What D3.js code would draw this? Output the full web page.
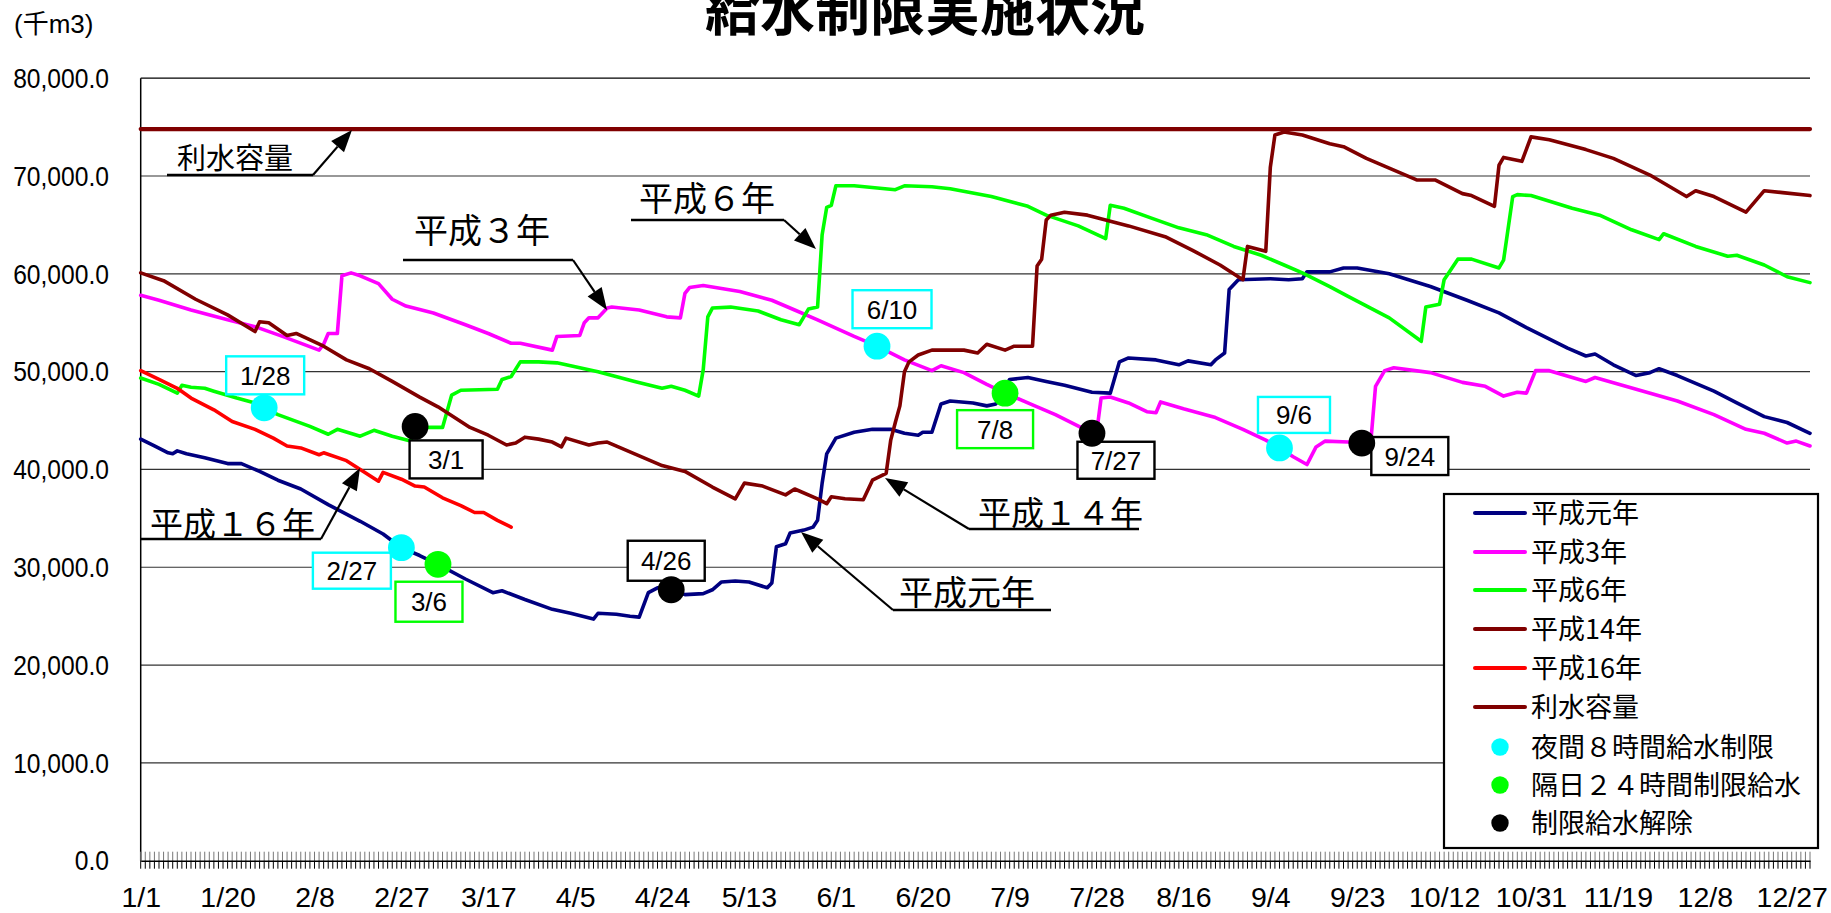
<!DOCTYPE html>
<html><head><meta charset="utf-8">
<script src="https://cdn.jsdelivr.net/npm/d3@7"></script>
<style>
html,body{margin:0;padding:0;background:#fff;overflow:hidden}
svg{display:block}
text{font-family:"Liberation Sans",Arial,"Noto Sans CJK JP",sans-serif;fill:#000}
.cjk{font-family:"Noto Sans CJK JP","Liberation Sans",sans-serif}
</style></head><body>
<svg id="chart" width="1831" height="913"></svg>
<script>
// ---------- DATA ----------
const title = "給水制限実施状況";
const unitLabel = "(千m3)";
const monthLengths = [31,29,31,30,31,30,31,31,30,31,30,31];
const xTickLabels = ["1/1","1/20","2/8","2/27","3/17","4/5","4/24","5/13","6/1","6/20","7/9","7/28","8/16","9/4","9/23","10/12","10/31","11/19","12/8","12/27"];
const yTicks = [0,10000,20000,30000,40000,50000,60000,70000,80000];

// day-of-year index (0 = 1/1) and storage (千m3)
const h1Day = [0,3,6,7,8,10,14,19,22,26,30,35,41,48,53,57,61,65,71,77,79,84,90,94,99,100,104,107,109,111,113,116,119,123,125,127,130,133,137,138,139,141,142,145,147,148,149,150,152,156,160,164,167,170,171,173,175,177,182,185,187,190,194,198,202,208,212,214,216,222,227,229,234,235,237,238,240,247,251,254,255,260,263,266,273,282,290,297,303,312,316,318,322,327,330,332,336,344,349,355,360,365];
const h1Val = [43100,42400,41700,41600,41900,41600,41200,40600,40600,39800,38900,38000,36400,34700,33400,32000,31200,30300,28800,27400,27600,26700,25700,25300,24700,25300,25200,25000,24900,27400,27900,27700,27200,27300,27700,28500,28600,28500,27900,28400,32100,32400,33500,33800,34100,34800,38600,41600,43200,43800,44100,44100,43700,43500,43800,43800,46700,47000,46800,46500,46700,49200,49400,49000,48600,47900,47800,51000,51400,51200,50700,51100,50700,51200,51900,58400,59400,59500,59400,59500,60200,60200,60600,60600,60000,58700,57300,56000,54500,52400,51600,51800,50700,49600,49900,50300,49600,48000,46800,45400,44800,43700];

const h3Day = [0,4,11,19,25,31,39,40,41,43,44,46,48,52,55,58,64,71,76,81,83,90,91,96,97,98,100,102,103,109,115,118,119,120,123,131,138,143,148,156,161,167,173,175,180,185,189,195,200,206,208,209,210,212,216,220,222,223,228,235,241,246,249,252,255,257,259,264,267,269,270,272,274,282,289,294,298,301,303,305,308,316,318,327,336,344,351,355,360,362,365];
const h3Val = [57800,57300,56300,55300,54600,53600,52200,52800,53900,53900,59800,60100,59800,59000,57400,56700,56000,54800,53900,52900,52900,52200,53600,53700,55000,55500,55500,56500,56600,56300,55600,55500,58000,58600,58800,58200,57300,56300,55300,53600,52600,51200,50100,50600,49900,48700,47800,46600,45600,44200,43700,43700,47300,47400,46800,45900,45800,46900,46200,45300,44100,43000,42200,41300,40500,42300,42900,42800,42700,43000,48500,50100,50400,49900,48900,48500,47500,47900,47800,50100,50100,49000,49400,48200,47000,45600,44100,43700,42700,42900,42400];

const h6Day = [0,4,8,9,11,14,16,21,25,27,30,37,41,43,48,51,55,59,60,66,68,70,78,79,81,83,87,91,100,108,114,116,119,122,123,124,125,129,135,140,144,145,146,148,149,150,151,152,156,165,167,173,177,186,194,198,205,211,212,215,221,227,233,239,245,250,254,260,264,273,280,281,284,285,288,291,297,298,300,301,304,313,319,326,332,333,340,347,349,355,360,365];
const h6Val = [49350,48700,47800,48600,48400,48300,48000,47300,46800,46300,45600,44400,43600,44100,43400,44000,43400,42900,44300,44300,47600,48100,48200,49200,49500,51000,51000,50900,50000,49000,48300,48500,48100,47500,50200,55600,56500,56600,56200,55300,54800,55600,56400,56600,64000,66800,67000,69000,69000,68600,69000,68900,68700,67900,66900,66000,64900,63600,67000,66700,65700,64700,64000,62800,61900,60900,60100,58700,57700,55500,53100,56600,56900,59400,61500,61500,60600,61400,67900,68100,68000,66700,66000,64500,63500,64100,62800,61800,61900,60900,59700,59100];

const h14Day = [0,5,12,19,25,26,28,32,34,40,45,50,55,61,65,72,76,80,82,84,87,90,92,93,98,100,102,108,114,119,125,130,132,136,141,143,148,150,151,154,158,160,163,164,165,166,167,168,170,173,180,183,185,189,191,195,196,197,198,199,202,207,216,224,230,236,241,242,246,247,248,250,254,260,263,268,279,283,289,291,296,297,298,302,304,308,316,322,330,338,340,344,351,353,355,359,365];
const h14Val = [60100,59300,57400,55800,54100,55100,55000,53700,53900,52600,51200,50300,49000,47400,46400,44300,43500,42500,42700,43300,43100,42800,42300,43200,42500,42700,42800,41600,40400,39800,38200,37000,38600,38300,37400,38000,37000,36500,37200,37000,36900,38900,39600,43000,44800,46500,50000,51000,51700,52200,52200,51900,52800,52200,52600,52600,60800,61500,65500,66000,66300,66000,64900,63800,62400,60900,59400,62800,62300,70900,74200,74500,74200,73300,73000,71800,69600,69600,68200,68000,66900,71100,71900,71500,74000,73700,72700,71800,70100,67900,68500,67900,66300,67400,68500,68300,68000];

const h16Day = [0,4,8,11,16,20,25,29,32,35,39,40,45,48,52,53,57,60,62,66,70,73,75,78,81];
const h16Val = [50100,49200,48300,47300,46100,44900,44100,43200,42400,42200,41500,41700,40900,40000,38800,39700,39000,38300,38200,37100,36300,35600,35600,34800,34100];

const capacityDay = [0,365];
const capacityVal = [74800,74800];

const seriesNames = ["平成元年","平成3年","平成6年","平成14年","平成16年","利水容量"];
const seriesColors = ["#000080","#FF00FF","#00FF00","#800000","#FF0000","#800000"];

const nightDates = ["1/28","2/27","6/10","9/6"];
const nightValues = [46300,32000,52600,42200];
const alternateDates = ["3/6","7/8"];
const alternateValues = [30300,47800];
const releaseDates = ["3/1","4/26","7/27","9/24"];
const releaseValues = [44400,27700,43700,42700];
const markerNames = ["夜間８時間給水制限","隔日２４時間制限給水","制限給水解除"];
const markerColors = ["#00FFFF","#00FF00","#000000"];

// ---------- LAYOUT (pixels) ----------
const W = 1831, H = 913;
const plot = {left:140.7, right:1810, top:78.2, bottom:860.7};
// date box offsets from marker centre: dx, dy, w, h
const boxLayout = {
  "1/28":[1,-32.5,78,38], "2/27":[-49.5,23,78,36], "3/6":[-9,37.4,67,40], "3/1":[31,33,73,38],
  "4/26":[-5,-29,77,40], "6/10":[15,-37,79,38], "7/8":[-10,36,76,38], "7/27":[24,27,77,37],
  "9/6":[14.5,-33,72,36], "9/24":[48,13,77,38]
};
const callouts = [
  {text:"利水容量", size:29, x:177, base:169, ul:[167,313,175], tip:[352,130], from:"end"},
  {text:"平成３年", size:34, x:414, base:243, ul:[403,573,260], tip:[607,310], from:"end"},
  {text:"平成６年", size:34, x:639, base:211, ul:[631,784,220], tip:[816,249], from:"end"},
  {text:"平成１４年", size:33, x:978, base:525, ul:[969,1139,529], tip:[885,478], from:"start"},
  {text:"平成元年", size:34, x:899, base:605, ul:[893,1051,610], tip:[801,532], from:"start"},
  {text:"平成１６年", size:33, x:150, base:536, ul:[141,321,539], tip:[360,468], from:"end"}
];

// ---------- BUILD ----------
const categories = [];
monthLengths.forEach((n,m)=>{ for(let d=1; d<=n; d++) categories.push((m+1)+"/"+d); });
const dayIndex = s => categories.indexOf(s);

const x = d3.scaleLinear().domain([0,365]).range([plot.left, plot.right]);
const y = d3.scaleLinear().domain([0,80000]).range([plot.bottom, plot.top]);

const svg = d3.select("#chart");
svg.append("rect").attr("width",W).attr("height",H).attr("fill","#fff");

// title
svg.append("text").attr("class","cjk").attr("x",925).attr("y",30)
  .attr("text-anchor","middle").attr("font-size",55).attr("font-weight","bold").text(title);
svg.append("text").attr("x",14).attr("y",33).attr("font-size",26).text(unitLabel);

// gridlines
svg.append("g").selectAll("line").data(yTicks.filter(v=>v>0)).join("line")
  .attr("x1",plot.left).attr("x2",plot.right)
  .attr("y1",d=>y(d)).attr("y2",d=>y(d))
  .attr("stroke",d=>d===80000?"#000":"#333").attr("stroke-width",1.2);

// y axis labels
const yAxisG = svg.append("g").attr("transform","translate(109,0)")
  .call(d3.axisLeft(y).tickValues(yTicks).tickSize(0).tickPadding(0).tickFormat(d3.format(",.1f")));
yAxisG.select(".domain").remove();
yAxisG.selectAll("text").attr("font-size",28).attr("font-family","Liberation Sans, Arial, sans-serif")
  .attr("dy","0.33em").attr("x",0).attr("transform","scale(0.88,1)").attr("fill","#000");

// axis lines
svg.append("line").attr("x1",plot.left).attr("x2",plot.left).attr("y1",plot.top).attr("y2",plot.bottom)
  .attr("stroke","#000").attr("stroke-width",1.5);

// x ticks (every day)
const allDays = d3.range(0,366);
svg.append("g").selectAll("line").data(allDays).join("line")
  .attr("x1",d=>x(d)).attr("x2",d=>x(d)).attr("y1",plot.bottom-9).attr("y2",plot.bottom)
  .attr("stroke","#777").attr("stroke-width",1);
svg.append("g").selectAll("line").data(allDays).join("line")
  .attr("x1",d=>x(d)).attr("x2",d=>x(d)).attr("y1",plot.bottom).attr("y2",plot.bottom+8)
  .attr("stroke","#000").attr("stroke-width",1);

const xAxisG = svg.append("g").attr("transform",`translate(0,${plot.bottom})`)
  .call(d3.axisBottom(x).tickValues(xTickLabels.map(dayIndex)).tickSize(0).tickPadding(0)
    .tickFormat(i=>categories[i]));
xAxisG.select(".domain").attr("stroke","#000").attr("stroke-width",1.5);
xAxisG.selectAll("text").attr("font-size",28.5).attr("font-family","Liberation Sans, Arial, sans-serif")
  .attr("dy",0).attr("y",46).attr("fill","#000");

// series
const line = d3.line().x(d=>x(d[0])).y(d=>y(d[1]));
const seriesData = [
  d3.zip(h1Day,h1Val), d3.zip(h3Day,h3Val), d3.zip(h6Day,h6Val),
  d3.zip(h14Day,h14Val), d3.zip(h16Day,h16Val), d3.zip(capacityDay,capacityVal)
];
svg.append("g").selectAll("path").data(seriesData).join("path")
  .attr("d",line).attr("fill","none")
  .attr("stroke",(d,i)=>seriesColors[i])
  .attr("stroke-width",(d,i)=>i===5?4.2:3.6)
  .attr("stroke-linejoin","round").attr("stroke-linecap","round");

// callouts (label + underline + arrow)
const cg = svg.append("g");
callouts.forEach(c=>{
  cg.append("text").attr("class","cjk").attr("x",c.x).attr("y",c.base)
    .attr("font-size",c.size).text(c.text);
  cg.append("line").attr("x1",c.ul[0]).attr("x2",c.ul[1]).attr("y1",c.ul[2]).attr("y2",c.ul[2])
    .attr("stroke","#000").attr("stroke-width",2.6);
  const sx = c.from==="end"?c.ul[1]:c.ul[0], sy = c.ul[2];
  const dx = c.tip[0]-sx, dy = c.tip[1]-sy, len = Math.hypot(dx,dy);
  const ux = dx/len, uy = dy/len, nx = -uy, ny = ux;
  const L = 22, hw = 8.5;
  const bx = c.tip[0]-ux*L, by = c.tip[1]-uy*L;
  cg.append("line").attr("x1",sx).attr("y1",sy).attr("x2",bx).attr("y2",by)
    .attr("stroke","#000").attr("stroke-width",2.2);
  cg.append("path").attr("d",`M${c.tip[0]},${c.tip[1]}L${bx+nx*hw},${by+ny*hw}L${bx-nx*hw},${by-ny*hw}Z`)
    .attr("fill","#000");
});

// marker groups + date boxes
const markerSets = [
  {dates:nightDates, values:nightValues, color:markerColors[0]},
  {dates:alternateDates, values:alternateValues, color:markerColors[1]},
  {dates:releaseDates, values:releaseValues, color:markerColors[2]}
];
const bg = svg.append("g"), mg = svg.append("g");
markerSets.forEach(s=>{
  s.dates.forEach((dt,i)=>{
    const cx = x(dayIndex(dt)), cy = y(s.values[i]);
    const b = boxLayout[dt];
    const bx = cx+b[0], by = cy+b[1];
    bg.append("rect").attr("x",bx-b[2]/2).attr("y",by-b[3]/2).attr("width",b[2]).attr("height",b[3])
      .attr("fill","#fff").attr("stroke",s.color).attr("stroke-width",2.4);
    bg.append("text").attr("x",bx).attr("y",by+9.5).attr("text-anchor","middle")
      .attr("font-size",26).text(dt);
    mg.append("circle").attr("cx",cx).attr("cy",cy).attr("r",13.4).attr("fill",s.color);
  });
});

// legend
const lg = svg.append("g");
lg.append("rect").attr("x",1444).attr("y",494).attr("width",374).attr("height",354)
  .attr("fill","#fff").attr("stroke","#000").attr("stroke-width",2.2);
const rowY = [513,552,590,629,668,707,747,785,823];
seriesNames.forEach((n,i)=>{
  lg.append("line").attr("x1",1475).attr("x2",1525).attr("y1",rowY[i]).attr("y2",rowY[i])
    .attr("stroke",seriesColors[i]).attr("stroke-width",4).attr("stroke-linecap","round");
  lg.append("text").attr("class","cjk").attr("x",1531).attr("y",rowY[i]+10).attr("font-size",27).text(n);
});
markerNames.forEach((n,j)=>{
  const i = j+6;
  lg.append("circle").attr("cx",1500).attr("cy",rowY[i]).attr("r",8.7).attr("fill",markerColors[j]);
  lg.append("text").attr("class","cjk").attr("x",1531).attr("y",rowY[i]+10).attr("font-size",27).text(n);
});
</script>
</body></html>
